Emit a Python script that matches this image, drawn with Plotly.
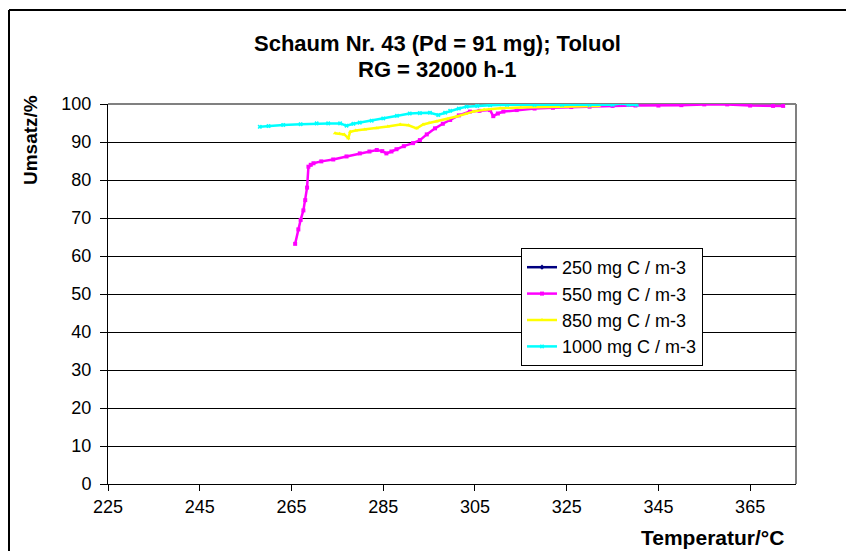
import plotly.graph_objects as go

# ---- data ----
series_names = ["250 mg C / m-3", "550 mg C / m-3", "850 mg C / m-3", "1000 mg C / m-3"]
series_colors = ["#000080", "#FF00FF", "#FFFF00", "#00FFFF"]
series_symbols = ["diamond", "square", "triangle-up", "x"]

t_250 = []
u_250 = []

t_550 = [265.8, 266.5, 267.0, 267.6, 268.0, 268.4, 268.7, 269.2, 269.8, 271.5, 274.1, 277.0,
         279.9, 282.0, 283.6, 284.8, 285.7, 286.8, 287.9, 289.5, 291.5, 293.0, 294.5, 296.3,
         298.0, 299.6, 301.5, 303.9, 306.0, 308.3, 309.0, 310.0, 311.2, 314.1, 318.0, 322.0,
         326.0, 330.0, 335.0, 340.0, 345.0, 350.0, 355.0, 360.0, 365.0, 370.0, 372.2]
u_550 = [63.2, 67.0, 69.5, 72.0, 74.7, 78.0, 83.5, 84.0, 84.4, 84.9, 85.4, 86.2,
         87.0, 87.5, 87.9, 87.6, 87.0, 87.5, 88.1, 88.9, 89.7, 90.5, 92.0, 93.6,
         94.8, 95.8, 97.0, 98.0, 98.2, 98.4, 96.8, 97.5, 98.0, 98.4, 98.8, 99.0,
         99.2, 99.3, 99.5, 99.6, 99.6, 99.7, 99.9, 99.9, 99.6, 99.5, 99.5]

t_850 = [274.5, 275.5, 276.5, 277.4, 277.8, 279.0, 281.0, 283.6, 286.0, 288.7, 290.5, 292.3,
         293.7, 295.0, 296.6, 299.0, 301.0, 303.0, 304.6, 307.0, 310.5, 315.0, 321.4, 326.0, 332.0]
u_850 = [92.3, 92.2, 92.0, 91.0, 92.7, 93.0, 93.3, 93.6, 94.1, 94.6, 94.4, 93.6,
         94.6, 95.0, 95.4, 96.0, 96.7, 97.4, 98.0, 98.5, 98.9, 99.1, 99.3, 99.4, 99.5]

t_1000 = [258.1, 260.0, 263.2, 267.0, 270.5, 273.0, 275.6, 277.0, 278.5, 279.9, 282.5, 285.0,
          288.0, 290.8, 293.0, 295.2, 297.0, 298.5, 299.6, 301.5, 303.2, 305.5, 308.3, 312.0,
          318.0, 324.0, 330.0, 335.0, 337.0, 338.5, 340.3]
u_1000 = [94.0, 94.2, 94.5, 94.7, 94.9, 94.9, 94.9, 94.3, 94.8, 95.1, 95.6, 96.2,
          96.9, 97.5, 97.6, 97.7, 97.1, 97.7, 98.2, 98.8, 99.3, 99.5, 99.7, 99.8,
          99.8, 99.8, 99.8, 99.8, 100.2, 99.8, 99.8]

x_ticks = [225, 245, 265, 285, 305, 325, 345, 365]
y_ticks = [0, 10, 20, 30, 40, 50, 60, 70, 80, 90, 100]

title_line1 = "Schaum Nr. 43 (Pd = 91 mg); Toluol"
title_line2 = "RG = 32000 h-1"
x_title = "Temperatur/°C"
y_title = "Umsatz/%"

FONT = "Liberation Sans, Arial, sans-serif"

fig = go.Figure()
xs = [t_250, t_550, t_850, t_1000]
ys = [u_250, u_550, u_850, u_1000]
for name, col, sym, x, y in zip(series_names, series_colors, series_symbols, xs, ys):
    fig.add_trace(go.Scatter(
        x=x if x else [None], y=y if y else [None], name=name, mode="lines+markers",
        line=dict(color=col, width=2.5),
        marker=dict(color=col, symbol=sym, size=4, line=dict(width=0, color=col)),
        showlegend=True,
    ))

# page geometry (the page body has an 8px margin)
OFF = 8
PL, PT = 108, 104          # plot area top-left in page pixels
pw, ph = 688, 380          # plot area size
W, H = 854 - OFF, 551 - OFF
L, T = PL - OFF, PT - OFF
R = W - L - pw
B = H - T - ph

def px(xp):
    return (xp - PL) / pw

def py(yp):
    return (PT + ph - yp) / ph

fig.update_layout(
    width=W, height=H,
    margin=dict(l=L, r=R, t=T, b=B, pad=0),
    paper_bgcolor="white", plot_bgcolor="white",
    font=dict(family=FONT, color="black", size=18),
    showlegend=True,
    legend=dict(
        x=px(521), y=py(248), xanchor="left", yanchor="top",
        bgcolor="white", bordercolor="black", borderwidth=1,
        font=dict(family=FONT, size=18, color="black"),
        tracegroupgap=0, itemwidth=30,
    ),
    xaxis=dict(
        range=[225, 375], tickvals=x_ticks, ticktext=[str(v) for v in x_ticks],
        showgrid=False, zeroline=False,
        showline=True, linecolor="black", linewidth=1,
        ticks="outside", ticklen=6, tickcolor="black",
        tickfont=dict(family=FONT, size=18, color="black"),
    ),
    yaxis=dict(
        range=[0, 100], tickvals=y_ticks,
        showgrid=True, gridcolor="black", gridwidth=1, zeroline=False,
        showline=True, linecolor="black", linewidth=1,
        ticks="outside", ticklen=7, tickcolor="black", ticklabelstandoff=5,
        tickfont=dict(family=FONT, size=18, color="black"),
    ),
)

# plot-area border on top and right (grey)
fig.add_shape(type="line", xref="paper", yref="paper", x0=0, x1=1, y0=1, y1=1,
              line=dict(color="#808080", width=2), layer="between")
fig.add_shape(type="line", xref="paper", yref="paper", x0=1, x1=1, y0=0, y1=1,
              line=dict(color="#808080", width=2), layer="between")

# chart outer border (left and top visible)
fig.add_shape(type="line", xref="paper", yref="paper", x0=px(9), x1=px(900), y0=py(10), y1=py(10),
              line=dict(color="black", width=2), layer="above")
fig.add_shape(type="line", xref="paper", yref="paper", x0=px(9), x1=px(9), y0=py(10), y1=py(600),
              line=dict(color="black", width=2), layer="above")

fig.add_annotation(text="<b>" + title_line1 + "</b>", xref="paper", yref="paper",
                   x=px(437), y=py(43), showarrow=False, xanchor="center", yanchor="middle",
                   font=dict(family=FONT, size=22, color="black"))
fig.add_annotation(text="<b>" + title_line2 + "</b>", xref="paper", yref="paper",
                   x=px(437), y=py(69), showarrow=False, xanchor="center", yanchor="middle",
                   font=dict(family=FONT, size=22, color="black"))
fig.add_annotation(text="<b>" + y_title + "</b>", xref="paper", yref="paper",
                   x=px(30), y=py(140), showarrow=False, xanchor="center", yanchor="middle",
                   textangle=-90, font=dict(family=FONT, size=19, color="black"))
fig.add_annotation(text="<b>" + x_title + "</b>", xref="paper", yref="paper",
                   x=px(712), y=py(537), showarrow=False, xanchor="center", yanchor="middle",
                   font=dict(family=FONT, size=21, color="black"))

fig.write_html("out.html")
